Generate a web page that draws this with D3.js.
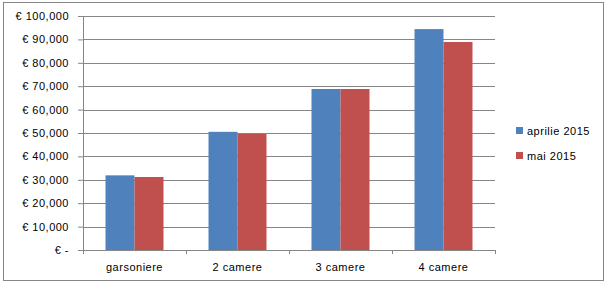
<!DOCTYPE html>
<html>
<head>
<meta charset="utf-8">
<script src="https://cdn.jsdelivr.net/npm/d3@7"></script>
<style>
body { margin: 0; background: #fff; }
text { font-family: "Liberation Sans", Arial, sans-serif; font-size: 11px; letter-spacing: 0.5px; fill: #000; }
</style>
</head>
<body>
<div id="chart"></div>
<script>
var categories = ["garsoniere", "2 camere", "3 camere", "4 camere"];
var seriesNames = ["aprilie 2015", "mai 2015"];
var aprilie = [31900, 50500, 68800, 94400];
var mai = [31200, 49600, 68800, 88900];
var yTicks = [0, 10000, 20000, 30000, 40000, 50000, 60000, 70000, 80000, 90000, 100000];
var colors = ["#4F81BD", "#C0504D"];

var width = 607, height = 286;
var margin = {top: 16, left: 83, right: 112, bottom: 36};
var plotW = width - margin.left - margin.right;
var plotH = height - margin.top - margin.bottom;

var svg = d3.select("#chart").append("svg")
    .attr("width", width)
    .attr("height", height);

// outer frame
svg.append("rect")
    .attr("x", 3.5).attr("y", 2.5)
    .attr("width", 600).attr("height", 278)
    .attr("fill", "none").attr("stroke", "#868686");

var g = svg.append("g")
    .attr("transform", "translate(" + margin.left + "," + margin.top + ")");

var x0 = d3.scaleBand().domain(categories).range([0, plotW]).padding(0);
var groupW = x0.bandwidth() * 0.563;
var x1 = d3.scaleBand().domain(seriesNames)
    .range([(x0.bandwidth() - groupW) / 2, (x0.bandwidth() + groupW) / 2]);
var y = d3.scaleLinear().domain([0, 100000]).range([plotH, 0]);

// gridlines
g.selectAll(".grid").data(yTicks.slice(1)).enter().append("line")
    .attr("x1", 0).attr("x2", plotW)
    .attr("y1", function(d) { return Math.round(y(d)) + 0.5; })
    .attr("y2", function(d) { return Math.round(y(d)) + 0.5; })
    .attr("stroke", "#868686");

var table = categories.map(function(c, i) {
    return {cat: c, vals: [aprilie[i], mai[i]]};
});

var groups = g.selectAll(".grp").data(table).enter().append("g")
    .attr("transform", function(d) { return "translate(" + x0(d.cat) + ",0)"; });

groups.selectAll("rect").data(function(d) {
    return d.vals.map(function(v, j) { return {name: seriesNames[j], v: v, j: j}; });
}).enter().append("rect")
    .attr("x", function(d) { return x1(d.name); })
    .attr("width", x1.bandwidth())
    .attr("y", function(d) { return y(d.v); })
    .attr("height", function(d) { return plotH - y(d.v); })
    .attr("fill", function(d) { return colors[d.j]; });

// y axis
var fmt = d3.format(",");
var yAxis = d3.axisLeft(y).tickValues(yTicks).tickSize(5).tickPadding(9)
    .tickFormat(function(d) { return d === 0 ? "€ -" : "€ " + fmt(d); });
var ya = g.append("g").call(yAxis);
ya.selectAll("path, line").attr("stroke", "#868686");
ya.select(".domain").attr("d", "M0.5," + plotH + "V0");
ya.selectAll("text").style("font-size", "11px").attr("fill", "#000");

// x axis
var xa = g.append("g").attr("transform", "translate(0," + plotH + ")");
xa.append("line").attr("x1", 0).attr("x2", plotW).attr("y1", 0.5).attr("y2", 0.5).attr("stroke", "#868686");
var bounds = categories.map(function(c) { return x0(c); }).concat([plotW]);
xa.selectAll(".tk").data(bounds).enter().append("line")
    .attr("x1", function(d) { return Math.round(d) + 0.5; })
    .attr("x2", function(d) { return Math.round(d) + 0.5; })
    .attr("y1", 0).attr("y2", 4)
    .attr("stroke", "#868686");
xa.selectAll(".lbl").data(categories).enter().append("text")
    .attr("x", function(d) { return x0(d) + x0.bandwidth() / 2; })
    .attr("y", 21)
    .attr("text-anchor", "middle")
    .text(function(d) { return d; });

// legend
var leg = svg.append("g").attr("transform", "translate(516,127)");
var li = leg.selectAll(".li").data(seriesNames).enter().append("g")
    .attr("transform", function(d, i) { return "translate(0," + i * 25 + ")"; });
li.append("rect").attr("width", 7).attr("height", 7)
    .attr("fill", function(d, i) { return colors[i]; });
li.append("text").attr("x", 11).attr("y", 7.5).text(function(d) { return d; });
</script>
</body>
</html>
